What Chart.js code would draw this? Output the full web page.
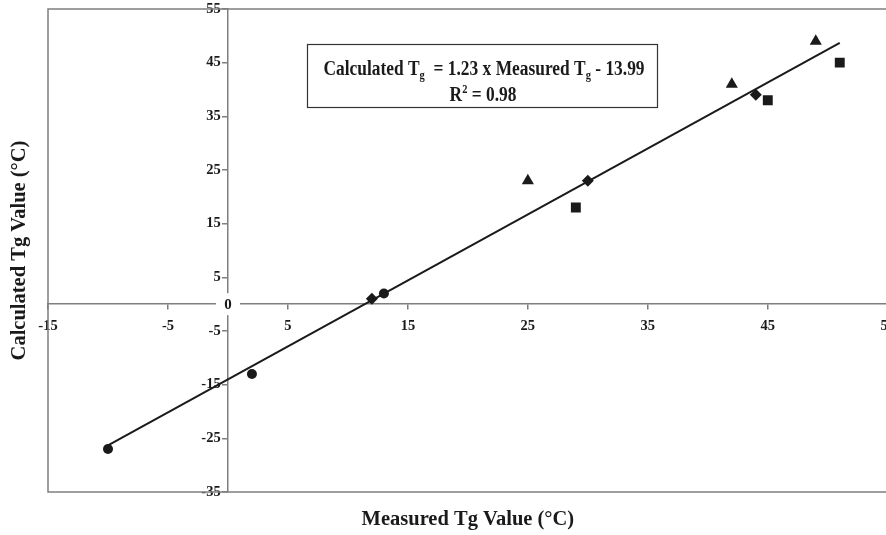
<!DOCTYPE html>
<html>
<head>
<meta charset="utf-8">
<script src="https://cdn.jsdelivr.net/npm/chart.js@4.4.1/dist/chart.umd.min.js"></script>
<style>
  html, body { margin: 0; padding: 0; background: #fff; overflow: hidden; }
  #wrap { width: 903px; height: 538px; margin-top: -3px; }
</style>
</head>
<body>
<div id="wrap"><canvas id="c" width="903" height="538"></canvas></div>
<script>
// ---- data ----
const circlePts   = [[-10, -27], [2, -13], [13, 2]];
const diamondPts  = [[12, 1], [30, 23], [44, 39]];
const squarePts   = [[29, 18], [45, 38], [51, 45]];
const trianglePts = [[25, 23], [42, 41], [49, 49]];
const fitLinePts  = [[-10, -26.3], [51, 48.7]];
const xRange = [-15, 55];
const yRange = [-35, 55];
const tickStep = 10;
const xTitle = 'Measured Tg Value (\u00B0C)';
const yTitle = 'Calculated Tg Value (\u00B0C)';
const eqLine1 = [['Calculated T', false], ['g', true], ['  = 1.23 x Measured T', false], ['g', true], [' - 13.99', false]];
const eqLine2 = [['R', false], ['2', 'sup'], [' = 0.98', false]];

const toXY = arr => arr.map(p => ({x: p[0], y: p[1]}));
const INK = '#1a1a1a';
const AXIS = '#7f7f7f';
const SERIF = '"Liberation Serif", "Times New Roman", serif';
const OFFY = 3; // canvas is shifted up by this many px

function drawRich(ctx, parts, cx, cy, size, sx) {
  const segs = parts.map(([t, mode]) => {
    const s = mode ? Math.round(size * 0.6) : size;
    ctx.font = 'bold ' + s + 'px ' + SERIF;
    return {t, mode, s, w: ctx.measureText(t).width};
  });
  const total = segs.reduce((a, b) => a + b.w, 0);
  ctx.save();
  ctx.translate(cx, cy);
  ctx.scale(sx, 1);
  let x = -total / 2;
  ctx.textBaseline = 'alphabetic';
  ctx.textAlign = 'left';
  const base = size * 0.34;
  segs.forEach(sg => {
    ctx.font = 'bold ' + sg.s + 'px ' + SERIF;
    let y = base;
    if (sg.mode === true) y = base + size * 0.22;
    if (sg.mode === 'sup') y = base - size * 0.38;
    ctx.fillText(sg.t, x, y);
    x += sg.w;
  });
  ctx.restore();
}

const overlay = {
  id: 'overlay',
  beforeDatasetsDraw(chart) {
    const {ctx, chartArea: a} = chart;
    ctx.save();
    ctx.strokeStyle = AXIS;
    ctx.lineWidth = 1.5;
    ctx.strokeRect(a.left, a.top, a.right - a.left, a.bottom - a.top);
    ctx.restore();
  },
  afterDraw(chart) {
    const {ctx, chartArea: a, scales} = chart;
    ctx.save();
    // origin label
    const ox = scales.x.getPixelForValue(0), oy = scales.y.getPixelForValue(0);
    ctx.fillStyle = '#fff';
    ctx.fillRect(ox - 12, oy - 11, 24, 22);
    ctx.fillStyle = INK;
    ctx.font = 'bold 15px ' + SERIF;
    ctx.textAlign = 'center';
    ctx.textBaseline = 'middle';
    ctx.fillText('0', ox, oy + 1);
    // equation box
    ctx.fillStyle = '#fff';
    ctx.fillRect(307, 44 + OFFY, 350, 63);
    ctx.strokeStyle = '#333';
    ctx.lineWidth = 1.2;
    ctx.strokeRect(307.5, 44.5 + OFFY, 350, 63);
    ctx.fillStyle = INK;
    drawRich(ctx, eqLine1, 484, 68 + OFFY, 20, 0.87);
    drawRich(ctx, eqLine2, 483, 94 + OFFY, 20, 0.87);
    // axis titles
    ctx.font = 'bold 20.5px ' + SERIF;
    ctx.textAlign = 'center';
    ctx.textBaseline = 'middle';
    ctx.fillText(xTitle, (a.left + a.right) / 2, 520 + OFFY);
    ctx.translate(20, (a.top + a.bottom) / 2);
    ctx.rotate(-Math.PI / 2);
    ctx.fillText(yTitle, 0, 0);
    ctx.restore();
  }
};

const mk = (label, pts, style, r) => ({
  label, data: toXY(pts), pointStyle: style, pointRadius: r, pointHoverRadius: r,
  backgroundColor: INK, borderColor: INK, borderWidth: 0, showLine: false
});

new Chart(document.getElementById('c'), {
  type: 'scatter',
  data: {
    datasets: [
      {label: 'fit', data: toXY(fitLinePts), showLine: true, borderColor: INK, borderWidth: 2,
       pointRadius: 0, fill: false},
      mk('circles', circlePts, 'circle', 5),
      mk('diamonds', diamondPts, 'rectRot', 6),
      mk('squares', squarePts, 'rect', 7),
      mk('triangles', trianglePts, 'triangle', 7)
    ]
  },
  options: {
    responsive: false,
    animation: false,
    devicePixelRatio: 1,
    layout: {padding: {left: 48, top: 12, right: 12, bottom: 43}},
    plugins: {legend: {display: false}, tooltip: {enabled: false}},
    scales: {
      x: {
        type: 'linear', min: xRange[0], max: xRange[1],
        position: {y: 0},
        border: {display: true, color: AXIS, width: 1.5},
        grid: {drawOnChartArea: false, drawTicks: true, tickLength: 5, color: AXIS, lineWidth: 1.5},
        ticks: {stepSize: tickStep, color: INK, padding: 8, maxRotation: 0,
                font: {family: SERIF, size: 14.5, weight: 'bold'}}
      },
      y: {
        type: 'linear', min: yRange[0], max: yRange[1],
        position: {x: 0},
        border: {display: true, color: AXIS, width: 1.5},
        grid: {drawOnChartArea: false, drawTicks: true, tickLength: 5, color: AXIS, lineWidth: 1.5},
        ticks: {stepSize: tickStep, color: INK, padding: 3,
                callback: v => v + '  ',
                font: {family: SERIF, size: 14.5, weight: 'bold'}}
      }
    }
  },
  plugins: [overlay]
});
</script>
</body>
</html>
